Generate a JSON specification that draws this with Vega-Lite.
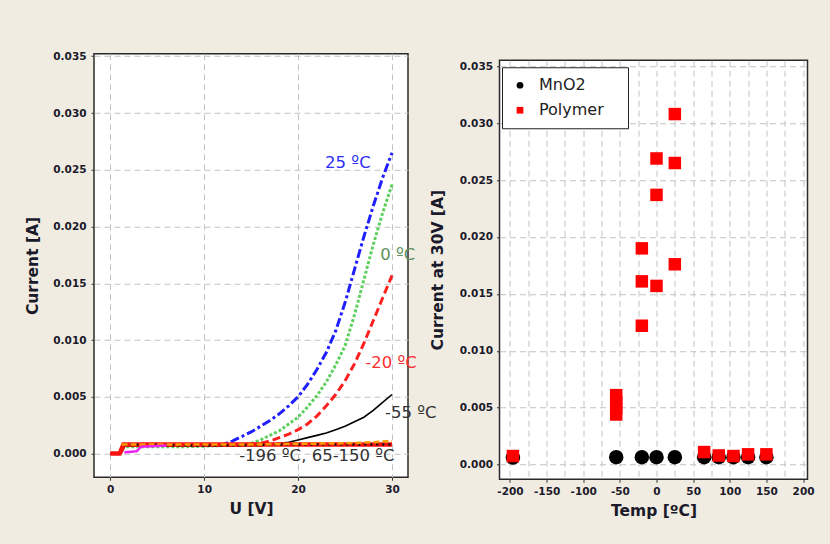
{
  "$schema": "https://vega.github.io/schema/vega-lite/v6.json",
  "background": "#f1ece2",
  "padding": {"left": 25, "top": 49.75, "right": 15, "bottom": 23},
  "bounds": "full",
  "spacing": -8.5,
  "config": {
    "font": "DejaVu Sans",
    "view": {"fill": "white", "stroke": "#2a2a2a", "strokeWidth": 1.5},
    "axis": {
      "domain": false,
      "labelFont": "DejaVu Sans", "labelFontWeight": "bold", "labelFontSize": 10.5, "labelColor": "#1a1a2a",
      "tickColor": "#333333", "tickSize": 3, "labelPadding": 4,
      "titleFont": "DejaVu Sans", "titleFontWeight": "bold", "titleFontSize": 15.5, "titleColor": "#1a1a2a",
      "gridColor": "#c2c2c2", "gridDash": [6, 4], "gridWidth": 1,
      "labelFlush": false, "labelOverlap": false
    }
  },
  "datasets": {
    "iv": [
      {"s": "25", "U": 0, "I": 0}, {"s": "25", "U": 1.1, "I": 0}, {"s": "25", "U": 1.5, "I": 0.0007}, {"s": "25", "U": 4, "I": 0.0007}, {"s": "25", "U": 8, "I": 0.0007}, {"s": "25", "U": 12, "I": 0.0008}, {"s": "25", "U": 13, "I": 0.0011}, {"s": "25", "U": 14, "I": 0.0015}, {"s": "25", "U": 15, "I": 0.0019}, {"s": "25", "U": 16, "I": 0.0024}, {"s": "25", "U": 17, "I": 0.0029}, {"s": "25", "U": 18, "I": 0.0035}, {"s": "25", "U": 19, "I": 0.0042}, {"s": "25", "U": 20, "I": 0.005}, {"s": "25", "U": 21, "I": 0.0061}, {"s": "25", "U": 22, "I": 0.0074}, {"s": "25", "U": 23, "I": 0.0089}, {"s": "25", "U": 24, "I": 0.0108}, {"s": "25", "U": 25, "I": 0.0133}, {"s": "25", "U": 26, "I": 0.0162}, {"s": "25", "U": 27, "I": 0.0191}, {"s": "25", "U": 28, "I": 0.0218}, {"s": "25", "U": 29, "I": 0.0243}, {"s": "25", "U": 30, "I": 0.0265},
      {"s": "0", "U": 0, "I": 0}, {"s": "0", "U": 1.1, "I": 0}, {"s": "0", "U": 1.5, "I": 0.0006}, {"s": "0", "U": 4, "I": 0.0006}, {"s": "0", "U": 8, "I": 0.0006}, {"s": "0", "U": 12, "I": 0.0007}, {"s": "0", "U": 14, "I": 0.0008}, {"s": "0", "U": 15, "I": 0.0009}, {"s": "0", "U": 16, "I": 0.0012}, {"s": "0", "U": 17, "I": 0.0016}, {"s": "0", "U": 18, "I": 0.002}, {"s": "0", "U": 19, "I": 0.0026}, {"s": "0", "U": 20, "I": 0.0032}, {"s": "0", "U": 21, "I": 0.0041}, {"s": "0", "U": 22, "I": 0.0051}, {"s": "0", "U": 23, "I": 0.0063}, {"s": "0", "U": 24, "I": 0.0078}, {"s": "0", "U": 25, "I": 0.0095}, {"s": "0", "U": 26, "I": 0.0122}, {"s": "0", "U": 27, "I": 0.0153}, {"s": "0", "U": 28, "I": 0.0184}, {"s": "0", "U": 29, "I": 0.0212}, {"s": "0", "U": 30, "I": 0.0237},
      {"s": "-20", "U": 0, "I": 0}, {"s": "-20", "U": 1.1, "I": 0}, {"s": "-20", "U": 1.5, "I": 0.0007}, {"s": "-20", "U": 8, "I": 0.0007}, {"s": "-20", "U": 14, "I": 0.0007}, {"s": "-20", "U": 16, "I": 0.0009}, {"s": "-20", "U": 17, "I": 0.0011}, {"s": "-20", "U": 18, "I": 0.0014}, {"s": "-20", "U": 19, "I": 0.0017}, {"s": "-20", "U": 20, "I": 0.0021}, {"s": "-20", "U": 21, "I": 0.0026}, {"s": "-20", "U": 22, "I": 0.0033}, {"s": "-20", "U": 23, "I": 0.0042}, {"s": "-20", "U": 24, "I": 0.0052}, {"s": "-20", "U": 25, "I": 0.0064}, {"s": "-20", "U": 26, "I": 0.0079}, {"s": "-20", "U": 27, "I": 0.0097}, {"s": "-20", "U": 28, "I": 0.0117}, {"s": "-20", "U": 29, "I": 0.0137}, {"s": "-20", "U": 30, "I": 0.0157},
      {"s": "-55", "U": 0, "I": 0}, {"s": "-55", "U": 1.1, "I": 0}, {"s": "-55", "U": 1.5, "I": 0.0007}, {"s": "-55", "U": 10, "I": 0.0007}, {"s": "-55", "U": 16, "I": 0.0007}, {"s": "-55", "U": 17, "I": 0.0008}, {"s": "-55", "U": 18, "I": 0.0009}, {"s": "-55", "U": 19, "I": 0.001}, {"s": "-55", "U": 20, "I": 0.0012}, {"s": "-55", "U": 21, "I": 0.0014}, {"s": "-55", "U": 22, "I": 0.0016}, {"s": "-55", "U": 23, "I": 0.0018}, {"s": "-55", "U": 24, "I": 0.0021}, {"s": "-55", "U": 25, "I": 0.0024}, {"s": "-55", "U": 26, "I": 0.0028}, {"s": "-55", "U": 27, "I": 0.0032}, {"s": "-55", "U": 28, "I": 0.0038}, {"s": "-55", "U": 29, "I": 0.0045}, {"s": "-55", "U": 30, "I": 0.0052},
      {"s": "65", "U": 0, "I": 0}, {"s": "65", "U": 1.0, "I": 0}, {"s": "65", "U": 1.4, "I": 0.0008}, {"s": "65", "U": 10, "I": 0.0008}, {"s": "65", "U": 20, "I": 0.0008}, {"s": "65", "U": 30, "I": 0.0008},
      {"s": "-196", "U": 1.5, "I": 0.0008}, {"s": "-196", "U": 10, "I": 0.0007}, {"s": "-196", "U": 20, "I": 0.0008}, {"s": "-196", "U": 30, "I": 0.0008},
      {"s": "150", "U": 1.2, "I": 0.0008}, {"s": "150", "U": 15, "I": 0.0008}, {"s": "150", "U": 25, "I": 0.0009}, {"s": "150", "U": 28, "I": 0.001}, {"s": "150", "U": 30, "I": 0.0011},
      {"s": "100", "U": 1.5, "I": 0.0001}, {"s": "100", "U": 2.8, "I": 0.0002}, {"s": "100", "U": 3.3, "I": 0.0006}, {"s": "100", "U": 6, "I": 0.0007}
    ],
    "notes": [
      {"s": "25", "U": 25.3, "I": 0.0256, "label": "25 ºC"},
      {"s": "0", "U": 30.6, "I": 0.0175, "label": "0 ºC"},
      {"s": "-20", "U": 29.9, "I": 0.008, "label": "-20 ºC"},
      {"s": "-55", "U": 32.0, "I": 0.0036, "label": "-55 ºC"},
      {"s": "-196", "U": 22.0, "I": -0.00023, "label": "-196 ºC, 65-150 ºC"}
    ],
    "pts": [
      {"type": "MnO2", "T": -196, "I": 0.00062}, {"type": "MnO2", "T": -55, "I": 0.00065}, {"type": "MnO2", "T": -20, "I": 0.00065}, {"type": "MnO2", "T": 0, "I": 0.00065}, {"type": "MnO2", "T": 25, "I": 0.00065}, {"type": "MnO2", "T": 65, "I": 0.00065}, {"type": "MnO2", "T": 85, "I": 0.00065}, {"type": "MnO2", "T": 105, "I": 0.00065}, {"type": "MnO2", "T": 125, "I": 0.00065}, {"type": "MnO2", "T": 150, "I": 0.00065},
      {"type": "Polymer", "T": -196, "I": 0.00075}, {"type": "Polymer", "T": -55, "I": 0.0044}, {"type": "Polymer", "T": -55, "I": 0.005}, {"type": "Polymer", "T": -55, "I": 0.0055}, {"type": "Polymer", "T": -55, "I": 0.0061},
      {"type": "Polymer", "T": -20, "I": 0.019}, {"type": "Polymer", "T": -20, "I": 0.0161}, {"type": "Polymer", "T": -20, "I": 0.0122},
      {"type": "Polymer", "T": 0, "I": 0.0269}, {"type": "Polymer", "T": 0, "I": 0.0237}, {"type": "Polymer", "T": 0, "I": 0.0157},
      {"type": "Polymer", "T": 25, "I": 0.0308}, {"type": "Polymer", "T": 25, "I": 0.0265}, {"type": "Polymer", "T": 25, "I": 0.0176},
      {"type": "Polymer", "T": 65, "I": 0.0011}, {"type": "Polymer", "T": 85, "I": 0.0008}, {"type": "Polymer", "T": 105, "I": 0.00075}, {"type": "Polymer", "T": 125, "I": 0.0009}, {"type": "Polymer", "T": 150, "I": 0.0009}
    ]
  },
  "hconcat": [
    {
      "width": 314,
      "height": 423.5,
      "encoding": {
        "x": {"field": "U", "type": "quantitative", "scale": {"domain": [-1.73, 31.7], "nice": false, "zero": false},
              "axis": {"values": [0, 10, 20, 30], "format": "d", "title": "U [V]", "titlePadding": 7}},
        "y": {"field": "I", "type": "quantitative", "scale": {"domain": [-0.00209, 0.03522], "nice": false, "zero": false},
              "axis": {"values": [0, 0.005, 0.01, 0.015, 0.02, 0.025, 0.03, 0.035], "format": ".3f", "title": "Current [A]", "titlePadding": 12, "labelPadding": 5}}
      },
      "layer": [
        {
          "data": {"name": "iv"},
          "transform": [{"filter": {"field": "s", "oneOf": ["25", "0", "-20"]}}],
          "mark": {"type": "line", "strokeWidth": 3},
          "encoding": {
            "color": {"field": "s", "type": "nominal", "scale": {"domain": ["25", "0", "-20", "-55", "-196", "65", "150", "100"], "range": ["#1f1fff", "#5fd05f", "#ff2020", "#000000", "#111111", "#ff1010", "#ff9a00", "#ee22ee"]}, "legend": null},
            "strokeDash": {"field": "s", "type": "nominal", "scale": {"domain": ["25", "0", "-20", "-55", "-196", "65", "150", "100"], "range": [[9, 3, 3, 3], [3, 2], [8, 4], [1, 0], [2, 4], [1, 0], [6, 3], [1, 0]]}, "legend": null}
          }
        },
        {
          "data": {"name": "iv"},
          "transform": [{"filter": {"field": "s", "oneOf": ["-55"]}}],
          "mark": {"type": "line", "strokeWidth": 1.6},
          "encoding": {
            "color": {"field": "s", "type": "nominal", "scale": {"domain": ["25", "0", "-20", "-55", "-196", "65", "150", "100"], "range": ["#1f1fff", "#5fd05f", "#ff2020", "#000000", "#111111", "#ff1010", "#ff9a00", "#ee22ee"]}, "legend": null}
          }
        },
        {
          "data": {"name": "iv"},
          "transform": [{"filter": {"field": "s", "oneOf": ["65"]}}],
          "mark": {"type": "line", "strokeWidth": 4.5},
          "encoding": {
            "color": {"field": "s", "type": "nominal", "scale": {"domain": ["25", "0", "-20", "-55", "-196", "65", "150", "100"], "range": ["#1f1fff", "#5fd05f", "#ff2020", "#000000", "#111111", "#ff1010", "#ff9a00", "#ee22ee"]}, "legend": null}
          }
        },
        {
          "data": {"name": "iv"},
          "transform": [{"filter": {"field": "s", "oneOf": ["-196", "150", "100"]}}],
          "mark": {"type": "line", "strokeWidth": 2.5},
          "encoding": {
            "color": {"field": "s", "type": "nominal", "scale": {"domain": ["25", "0", "-20", "-55", "-196", "65", "150", "100"], "range": ["#1f1fff", "#5fd05f", "#ff2020", "#000000", "#111111", "#ff1010", "#ff9a00", "#ee22ee"]}, "legend": null},
            "strokeDash": {"field": "s", "type": "nominal", "scale": {"domain": ["25", "0", "-20", "-55", "-196", "65", "150", "100"], "range": [[9, 3, 3, 3], [3, 2], [8, 4], [1, 0], [2, 4], [1, 0], [6, 3], [1, 0]]}, "legend": null}
          }
        },
        {
          "data": {"name": "notes"},
          "mark": {"type": "text", "fontSize": 16.5, "font": "DejaVu Sans", "align": "center", "baseline": "middle"},
          "encoding": {
            "text": {"field": "label"},
            "color": {"field": "s", "type": "nominal", "scale": {"domain": ["25", "0", "-20", "-55", "-196"], "range": ["#2e2ef5", "#5f8f5f", "#ff3030", "#333333", "#333333"]}, "legend": null}
          }
        }
      ],
      "resolve": {"scale": {"color": "independent"}}
    },
    {
      "spacing": 3.5,
      "bounds": "full",
      "vconcat": [
        {
          "width": 10,
          "height": 2,
          "view": {"fill": null, "stroke": null},
          "data": {"values": []},
          "mark": "point"
        },
        {
          "width": 308,
          "height": 419,
          "data": {"name": "pts"},
          "encoding": {
            "x": {"field": "T", "type": "quantitative", "scale": {"domain": [-214.3, 206.1], "nice": false, "zero": false},
                  "axis": {"values": [-200, -175, -150, -125, -100, -75, -50, -25, 0, 25, 50, 75, 100, 125, 150, 175, 200],
                           "labelExpr": "datum.value % 50 === 0 ? '' + datum.value : ''",
                           "tickOpacity": {"condition": {"test": "datum.value % 50 === 0", "value": 1}, "value": 0},
                           "title": "Temp [ºC]", "titlePadding": 7}},
            "y": {"field": "I", "type": "quantitative", "scale": {"domain": [-0.00129, 0.03553], "nice": false, "zero": false},
                  "axis": {"values": [0, 0.005, 0.01, 0.015, 0.02, 0.025, 0.03, 0.035], "format": ".3f", "title": "Current at 30V [A]", "titlePadding": 13.5}},
            "color": {"field": "type", "type": "nominal", "scale": {"domain": ["MnO2", "Polymer"], "range": ["#000000", "#ff0000"]},
                      "legend": {"orient": "none", "legendX": 408, "legendY": 13.5, "title": "··", "titleOrient": "right", "titleColor": "transparent", "titleFontSize": 16, "titlePadding": 1,
                                 "fillColor": "white", "strokeColor": "#222222",
                                 "padding": 10, "labelFontSize": 16, "labelFont": "DejaVu Sans", "labelColor": "#222222",
                                 "symbolSize": 45, "symbolOffset": 0, "labelOffset": 11, "rowPadding": 9, "symbolStrokeWidth": 0}},
            "shape": {"field": "type", "type": "nominal", "scale": {"domain": ["MnO2", "Polymer"], "range": ["circle", "square"]}}
          },
          "layer": [
            {
              "transform": [{"filter": {"field": "type", "equal": "MnO2"}}],
              "mark": {"type": "point", "filled": true, "opacity": 1, "size": 210}
            },
            {
              "transform": [{"filter": {"field": "type", "equal": "Polymer"}}],
              "mark": {"type": "point", "filled": true, "opacity": 1, "size": 156}
            }
          ]
        }
      ]
    }
  ]
}
